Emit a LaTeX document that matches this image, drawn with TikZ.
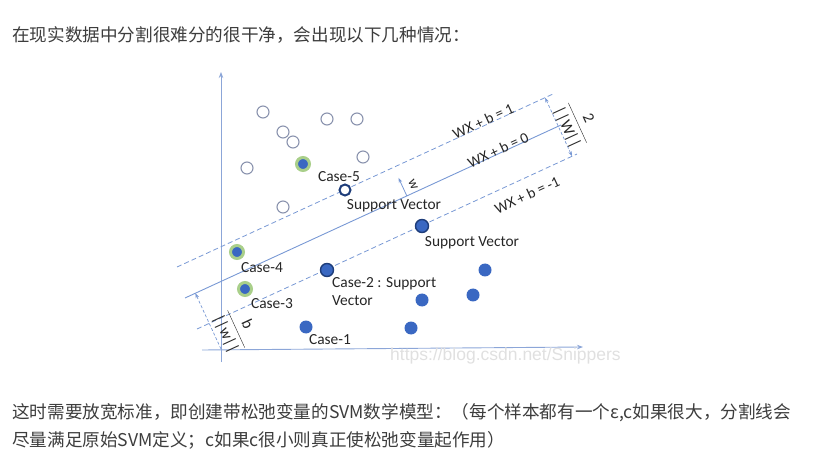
\documentclass[tikz,border=0pt]{standalone}
\usepackage{fontspec}
\setmainfont{Carlito}
\newfontfamily\cjk{Noto Sans CJK SC}
\newfontfamily\wmfont{Liberation Sans}
\usetikzlibrary{arrows.meta,calc}

\definecolor{axisblue}{HTML}{8CA6D8}
\definecolor{lineblue}{HTML}{7898D4}
\definecolor{dotblue}{HTML}{3A68C2}
\definecolor{darkblue}{HTML}{1E3D7A}
\definecolor{halogreen}{HTML}{A9CF8A}
\definecolor{ringgray}{HTML}{8A93AE}
\definecolor{txtgray}{HTML}{262626}
\definecolor{cjkgray}{HTML}{3D3D3D}

\tikzset{
  opendot/.style={circle, draw=ringgray, fill=white, line width=1.1pt, minimum size=12pt, inner sep=0pt},
  bluedot/.style={circle, fill=dotblue, minimum size=13pt, inner sep=0pt},
  svdot/.style={bluedot, draw=darkblue, line width=1.4pt},
  halodot/.style={circle, fill=dotblue, draw=halogreen, line width=3pt, minimum size=13pt, inner sep=0pt},
  casefive/.style={circle, draw=darkblue, fill=white, line width=2pt, minimum size=11pt, inner sep=0pt},
  lbl/.style={text=txtgray, font=\fontsize{15.4}{18}\selectfont, inner sep=0pt},
  eqlbl/.style={lbl, rotate=24.7, font=\fontsize{15}{18}\selectfont},
  fraclbl/.style={lbl, rotate=-65.3, font=\fontsize{16}{18}\selectfont},
  marginline/.style={lineblue, line width=0.8pt, dash pattern=on 5pt off 3pt},
  axisline/.style={axisblue, line width=0.9pt, -{Stealth[length=6pt,width=4.5pt]}},
  dimline/.style={lineblue, line width=0.7pt, dash pattern=on 3pt off 2pt},
  tip/.style={-{Stealth[length=5pt,width=3.5pt]}},
  cjktext/.style={text=cjkgray, font=\cjk\fontsize{17.6}{20}\selectfont, inner sep=0pt, anchor=west}
}

\begin{document}
\begin{tikzpicture}[x=1pt,y=-1pt]
  \useasboundingbox (0,0) rectangle (827,462);

  \node[cjktext] (intro) at (12,35) {在现实数据中分割很难分的很干净，会出现以下几种情况：};

  % axes
  \coordinate (O) at (221,349);
  \coordinate (ybot) at (221,362);
  \coordinate (ytop) at (221,72);
  \coordinate (xleft) at (202,350);
  \coordinate (xright) at (583,347);
  \draw[axisline] (ybot) -- (ytop);
  \draw[axisline] (xleft) -- (xright);

  % hyperplane and margins
  \coordinate (u1) at (177,267);
  \coordinate (u2) at (553,94);
  \coordinate (s1) at (185,298);
  \coordinate (s2) at (561,125);
  \coordinate (l1) at (197,329);
  \coordinate (l2) at (577,154);
  \draw[marginline] (u1) -- (u2);
  \draw[lineblue, line width=0.9pt] (s1) -- (s2);
  \draw[marginline] (l1) -- (l2);

  \node[eqlbl] (eqone) at (483,121) {WX + b = 1};
  \node[eqlbl] (eqzero) at (498,150) {WX + b = 0};
  \node[eqlbl] (eqminus) at (527,195) {WX + b = -1};

  % margin width
  \coordinate (rtop) at ($(u1)!0.979!(u2)$);
  \coordinate (rbot) at ($(l1)!(rtop)!(l2)$);
  \draw[dimline, {Stealth[length=5pt,width=3.5pt]}-{Stealth[length=5pt,width=3.5pt]}] (rtop) -- (rbot);
  \node[fraclbl] (margfrac) at (577,123) {$\displaystyle\frac{\mbox{2}}{\mbox{||W||}}$};

  % offset b
  \coordinate (foot) at ($(s1)!(O)!(s2)$);
  \draw[dimline, tip] (O) -- (foot);
  \node[fraclbl] (offfrac) at (236,329) {$\displaystyle\frac{\mbox{b}}{\mbox{||w||}}$};

  % normal vector
  \coordinate (wbase) at ($(s1)!0.59!(s2)$);
  \coordinate (wtip) at ($(wbase)!20pt!90:(s2)$);
  \draw[lineblue, line width=0.8pt, tip] (wbase) -- (wtip);
  \node[lbl, rotate=-65.3, font=\fontsize{14}{16}\selectfont] (wlbl) at (413,185) {w};

  % open points
  \node[opendot] (o1) at (263,112) {};
  \node[opendot] (o2) at (283,132) {};
  \node[opendot] (o3) at (293,142) {};
  \node[opendot] (o4) at (327,119) {};
  \node[opendot] (o5) at (357,119) {};
  \node[opendot] (o6) at (363,157) {};
  \node[opendot] (o7) at (247,168) {};
  \node[opendot] (o8) at (283,207) {};

  % filled points
  \node[halodot] (h5) at (303,164) {};
  \node[halodot] (h4) at (237,252) {};
  \node[halodot] (h3) at (245,289) {};
  \node[casefive] (c5) at (345,190) {};
  \node[svdot] (sv) at (422,226) {};
  \node[svdot] (c2) at (327,270) {};
  \node[bluedot] (c1) at (306,327) {};
  \node[bluedot] (p1) at (485,270) {};
  \node[bluedot] (p2) at (422,300) {};
  \node[bluedot] (p3) at (473,295) {};
  \node[bluedot] (p4) at (411,328) {};

  % labels
  \node[lbl] (c5lbl) at (339,177) {Case-5};
  \node[lbl] (sv5lbl) at (394,206) {Support Vector};
  \node[lbl] (svlbl) at (472,243) {Support Vector};
  \node[lbl, anchor=north west, align=left] (c2lbl) at (332,277) {Case-2 : Support\\Vector};
  \node[lbl] (c4lbl) at (262,268) {Case-4};
  \node[lbl] (c3lbl) at (272,304) {Case-3};
  \node[lbl] (c1lbl) at (330,340) {Case-1};

  \node[text=black!12, font=\wmfont\fontsize{17.5}{20}\selectfont, anchor=west, inner sep=0pt] (wm) at (390,356) {https://blog.csdn.net/Snippers};

  \node[cjktext] (note1) at (12,413) {这时需要放宽标准，即创建带松弛变量的SVM数学模型：（每个样本都有一个ε,c如果很大，分割线会};
  \node[cjktext] (note2) at (12,440) {尽量满足原始SVM定义；c如果c很小则真正使松弛变量起作用）};
\end{tikzpicture}
\end{document}
